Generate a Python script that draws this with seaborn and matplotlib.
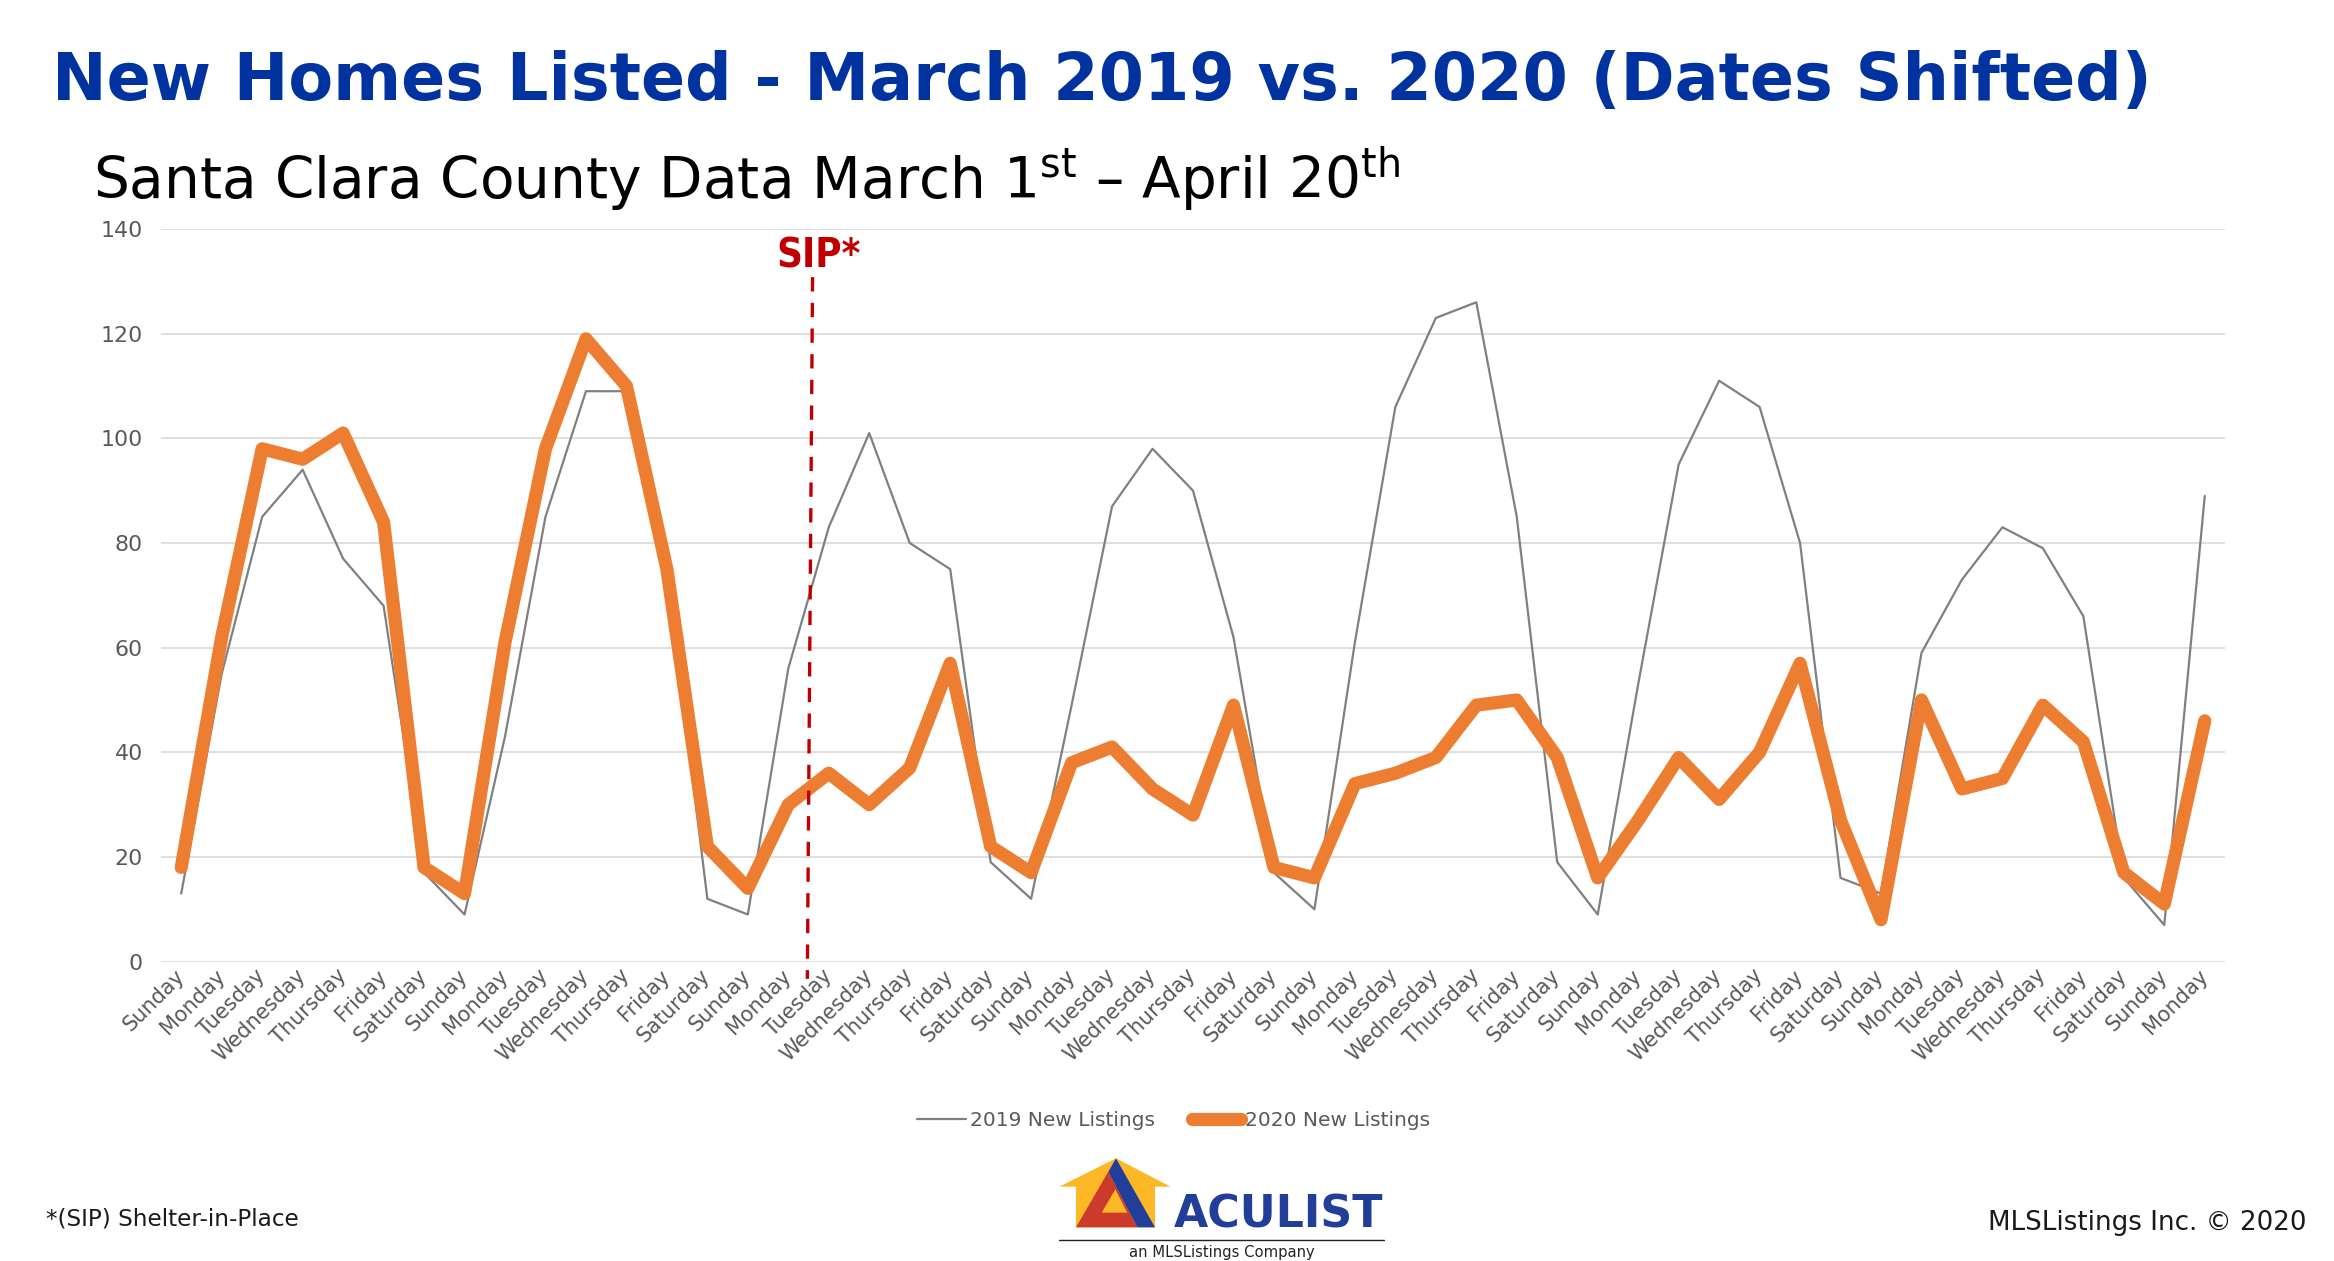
import matplotlib
matplotlib.use('Agg')
import matplotlib.pyplot as plt
import matplotlib.patches as mpatches
from matplotlib import font_manager
import seaborn as sns
import pandas as pd
import numpy as np

# --- données ---
week = ['Sunday', 'Monday', 'Tuesday', 'Wednesday', 'Thursday', 'Friday', 'Saturday']
days = week * 7 + ['Sunday', 'Monday']

listings_2019 = [13, 55, 85, 94, 77, 68, 17, 9, 43, 85, 109, 109, 75, 12, 9, 56, 83,
                 101, 80, 75, 19, 12, 49, 87, 98, 90, 62, 17, 10, 61, 106, 123, 126,
                 85, 19, 9, 53, 95, 111, 106, 80, 16, 13, 59, 73, 83, 79, 66, 16, 7, 89]
listings_2020 = [18, 62, 98, 96, 101, 84, 18, 13, 61, 98, 119, 110, 75, 22, 14, 30, 36,
                 30, 37, 57, 22, 17, 38, 41, 33, 28, 49, 18, 16, 34, 36, 39, 49,
                 50, 39, 16, 27, 39, 31, 40, 57, 27, 8, 50, 33, 35, 49, 42, 17, 11, 46]
y_ticks = [0, 20, 40, 60, 80, 100, 120, 140]

title = "New Homes Listed - March 2019 vs. 2020 (Dates Shifted)"
subtitle = r"Santa Clara County Data March 1$^{\mathrm{st}}$ – April 20$^{\mathrm{th}}$"

W, H = 2334, 1261
sns.set_theme(style='white')
installed = {f.name for f in font_manager.fontManager.ttflist}
base = 'Liberation Sans Narrow' if 'Liberation Sans Narrow' in installed else 'DejaVu Sans'
plt.rcParams['font.family'] = [base, 'DejaVu Sans']
plt.rcParams['mathtext.fontset'] = 'custom'
plt.rcParams['mathtext.rm'] = base

fig = plt.figure(figsize=(W / 100, H / 100), dpi=100)
fig.patch.set_facecolor('white')
renderer = fig.canvas.get_renderer()


def px(x, y):
    # pixels de l'image (origine en haut à gauche) -> fraction de figure
    return (x / W, 1 - y / H)


def size_for(s, width, **kw):
    # taille de police qui donne la largeur voulue en pixels
    t = fig.text(0, 0, s, fontsize=10, **kw)
    w = t.get_window_extent(renderer).width
    t.remove()
    return 10 * width / w


ax = fig.add_axes([161 / W, 1 - 961.6 / H, (2225 - 161) / W, (961.6 - 229) / H])

df = pd.DataFrame({'day': np.arange(len(days)), '2019': listings_2019, '2020': listings_2020})
sns.lineplot(data=df, x='day', y='2019', ax=ax, color='#808080', lw=1.6,
             label='2019 New Listings')
sns.lineplot(data=df, x='day', y='2020', ax=ax, color='#ED7D31', lw=9.5,
             label='2020 New Listings', solid_joinstyle='round', solid_capstyle='round')
handles, labels = ax.get_legend_handles_labels()
if ax.get_legend() is not None:
    ax.get_legend().remove()

ax.set_xlim(-0.5, len(days) - 0.5)
ax.set_ylim(0, 140)
ax.set_yticks(y_ticks)
ax.set_xticks(df['day'], labels=days)
ax.set_xlabel('')
ax.set_ylabel('')
ax.yaxis.grid(True, color='#D9D9D9', lw=1.2)
ax.xaxis.grid(False)
ax.set_axisbelow(True)
sns.despine(ax=ax, left=True, bottom=True)

xfs = size_for('Wednesday', 121)
yfs = size_for('140', 42)
ax.tick_params(axis='x', length=0, pad=8, labelsize=xfs, labelcolor='#595959')
ax.tick_params(axis='y', length=0, pad=13, labelsize=yfs, labelcolor='#595959')
for lab in ax.get_xticklabels():
    lab.set_rotation(45)
    lab.set_ha('right')
    lab.set_va('center')
    lab.set_rotation_mode('anchor')

# --- ligne SIP ---
ax.plot([15.6, 15.47], [130.8, -3.3], color='#C00000', lw=2.4, dashes=(4.3, 3.4),
        clip_on=False, zorder=5)
ax.text(15.74, 132.6, 'SIP*', color='#C00000', fontweight='bold', fontstretch='condensed',
        ha='center', va='baseline',
        fontsize=size_for('SIP*', 84, fontweight='bold', fontstretch='condensed'))

# --- titres ---
fig.text(*px(52, 100), title, color='#0033A0', fontweight='bold', ha='left', va='baseline',
         fontsize=size_for(title, 2103, fontweight='bold'))
fig.text(*px(93, 199), subtitle, color='black', ha='left', va='baseline',
         fontsize=size_for(subtitle, 1314))

legfs = size_for('2019 New Listings', 184)
fig.legend(handles, labels, loc='center', bbox_to_anchor=px(1173.5, 1121), ncol=2,
           frameon=False, fontsize=legfs, handlelength=49 / (legfs * 100 / 72),
           handletextpad=0.2, columnspacing=1.8, labelcolor='#595959')

fig.text(*px(46, 1226), '*(SIP) Shelter-in-Place', color='#1a1a1a', ha='left', va='baseline',
         fontsize=size_for('*(SIP) Shelter-in-Place', 252))
fig.text(*px(2307, 1230), 'MLSListings Inc. © 2020', color='#1a1a1a', ha='right',
         va='baseline', fontsize=size_for('MLSListings Inc. © 2020', 317))


# --- logo ACULIST ---
def lp(x, y):
    return px(1040 + x / 3, 1140 + y / 3)


def poly(pts, color):
    fig.add_artist(mpatches.Polygon([lp(*p) for p in pts], closed=True,
                                    transform=fig.transFigure, fc=color, ec='none'))


poly([(108, 262), (108, 140), (58, 140), (228, 55), (392, 140), (345, 140), (345, 262)], '#FDB827')
poly([(108, 262), (205, 95), (292, 262)], '#CC3A2B')
poly([(205, 95), (228, 55), (345, 262), (292, 262)], '#213F98')
poly([(185, 218), (226, 148), (262, 218)], '#FDB827')
fig.text(*lp(400, 262), 'ACULIST', color='#213F98', fontweight='bold', ha='left',
         va='baseline', fontsize=size_for('ACULIST', 210, fontweight='bold'))
x1, y1 = lp(58, 300)
x2, _ = lp(1033, 300)
fig.add_artist(plt.Line2D([x1, x2], [y1, y1], transform=fig.transFigure, color='#222222', lw=1.0))
fig.text(*px(1221.7, 1259.5), 'an MLSListings Company', color='#222222', ha='center',
         va='bottom', fontsize=size_for('an MLSListings Company', 185))

fig.savefig('out.png', dpi=100)
